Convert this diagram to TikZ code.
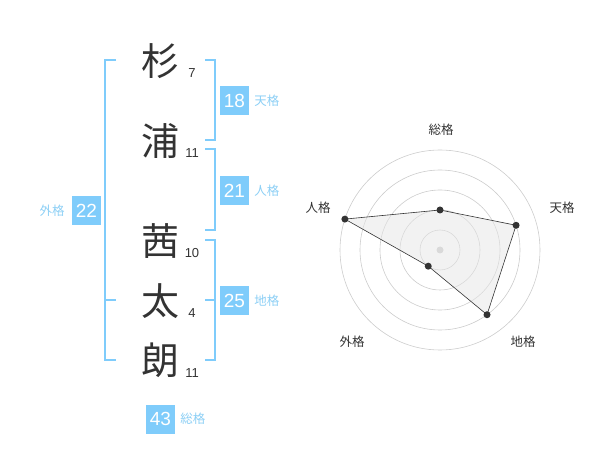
\documentclass[tikz,border=0pt]{standalone}
\usepackage{fontspec}
\setmainfont{Liberation Sans}
\newfontfamily\jp{Noto Sans CJK JP}
\usetikzlibrary{positioning}
\definecolor{kakublue}{HTML}{7FCCFB}
\definecolor{kakulabel}{HTML}{8CCFF5}
\definecolor{inkgray}{HTML}{333333}
\definecolor{ringgray}{HTML}{CCCCCC}
\definecolor{areagray}{HTML}{E6E6E6}

\begin{document}
\begin{tikzpicture}[
  x=1pt, y=-1pt,
  kanji/.style={font=\jp\fontsize{38}{38}\selectfont, text=inkgray, inner sep=0},
  strokes/.style={font=\fontsize{13}{13}\selectfont, text=inkgray, inner sep=0},
  kakubox/.style={fill=kakublue, text=white, minimum size=29pt, inner sep=0, font=\fontsize{19}{19}\selectfont},
  kakulbl/.style={font=\jp\fontsize{12.5}{12.5}\selectfont, text=kakulabel, inner sep=0},
  bracket/.style={draw=kakublue, line width=1.6pt},
  axislbl/.style={font=\jp\fontsize{12.5}{12.5}\selectfont, text=inkgray, inner sep=0},
  ring/.style={draw=ringgray, line width=0.6pt},
  dot/.style={circle, fill=inkgray, inner sep=0, minimum size=7pt},
  node distance=5pt
]
\useasboundingbox (0,0) rectangle (600,470);

% name characters and stroke counts
\node[kanji] (sugi) at (160,61) {杉};
\node[kanji] (ura) at (160,141) {浦};
\node[kanji] (akane) at (160,241) {茜};
\node[kanji] (futo) at (160,301) {太};
\node[kanji] (ro) at (160,360) {朗};
\node[strokes] (n1) at (192,73) {7};
\node[strokes] (n2) at (192,153) {11};
\node[strokes] (n3) at (192,253) {10};
\node[strokes] (n4) at (192,313) {4};
\node[strokes] (n5) at (192,373) {11};

% brackets
\draw[bracket] (116,60) -- (105,60) -- (105,360) -- (116,360);
\draw[bracket] (105,300) -- (116,300);
\draw[bracket] (205,60) -- (215,60) -- (215,140) -- (205,140);
\draw[bracket] (205,149) -- (215,149) -- (215,230) -- (205,230);
\draw[bracket] (205,240) -- (215,240) -- (215,360) -- (205,360);
\draw[bracket] (205,300) -- (215,300);

% kaku values
\node[kakubox] (ten) at (234.5,100.5) {18};
\node[kakulbl, right=of ten] {天格};
\node[kakubox] (jin) at (234.5,190.5) {21};
\node[kakulbl, right=of jin] {人格};
\node[kakubox] (chi) at (234.5,300.5) {25};
\node[kakulbl, right=of chi] {地格};
\node[kakubox] (gai) at (86.5,210.5) {22};
\node[kakulbl, left=7pt of gai] {外格};
\node[kakubox] (so) at (160.5,419) {43};
\node[kakulbl, right=of so] {総格};

% radar chart
\coordinate (c) at (440,250);
\foreach \r in {20,40,...,100}
  \draw[ring] (c) circle[radius=\r pt];
\fill[ringgray] (c) circle[radius=3.5pt];

\coordinate (rso) at ([shift={(90:40pt)}]c);
\coordinate (rten) at ([shift={(18:80pt)}]c);
\coordinate (rchi) at ([shift={(-54:80pt)}]c);
\coordinate (rgai) at ([shift={(-126:20pt)}]c);
\coordinate (rjin) at ([shift={(162:100pt)}]c);
\draw[fill=areagray, fill opacity=0.5, draw=inkgray, line width=0.6pt]
  (rso) -- (rten) -- (rchi) -- (rgai) -- (rjin) -- cycle;
\foreach \p in {rso,rten,rchi,rgai,rjin}
  \node[dot] at (\p) {};

\node[axislbl] (lso) at (441,130) {総格};
\node[axislbl] (lten) at (562,208) {天格};
\node[axislbl] (lchi) at (523,342) {地格};
\node[axislbl] (lgai) at (352,342) {外格};
\node[axislbl] (ljin) at (318,208) {人格};
\end{tikzpicture}
\end{document}
